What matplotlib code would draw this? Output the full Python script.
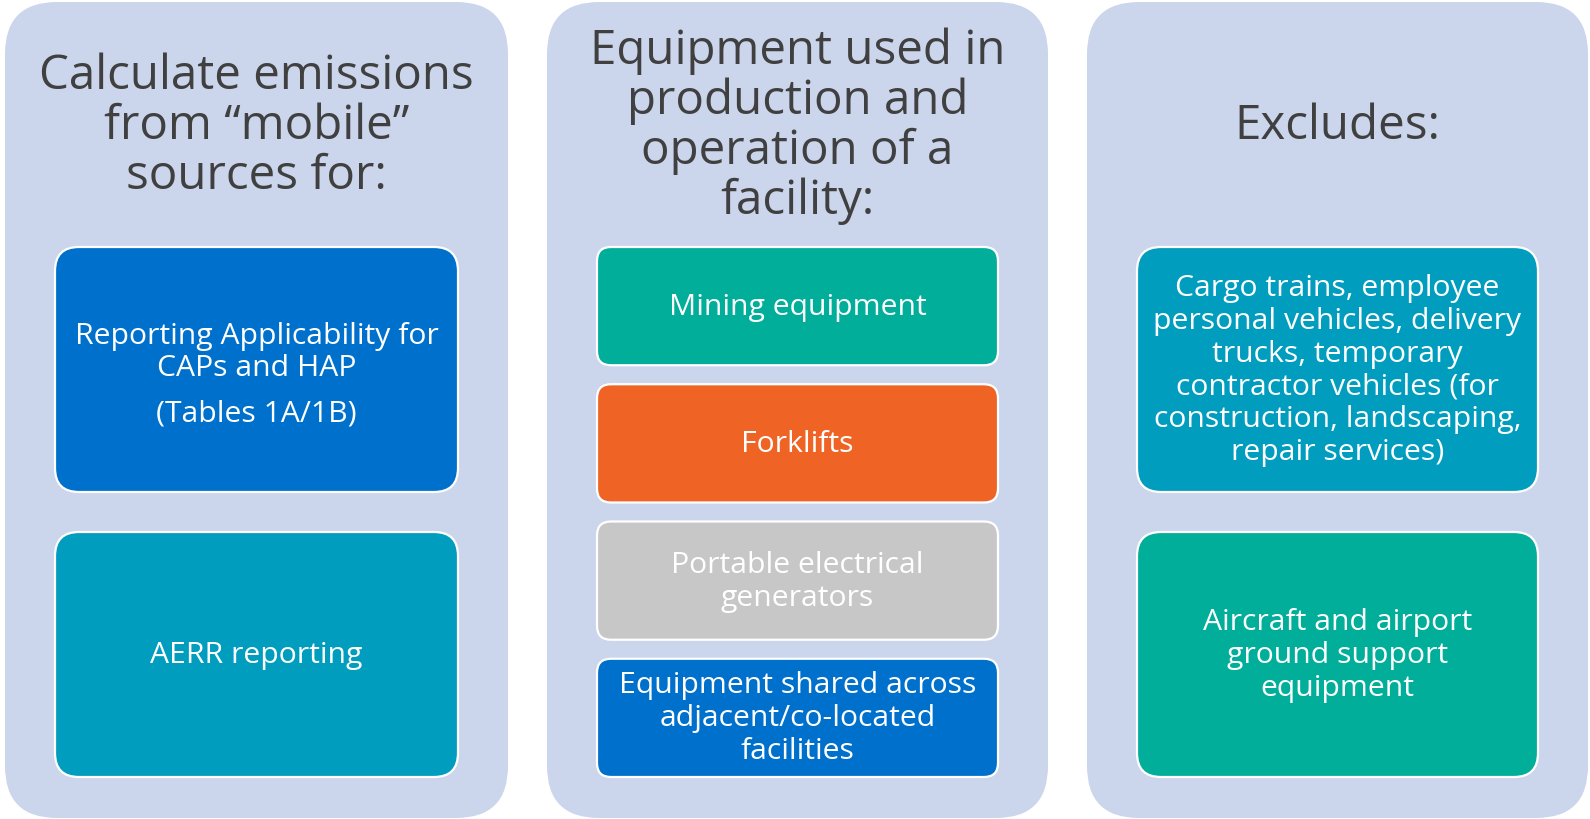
import matplotlib
matplotlib.use("Agg")
import matplotlib.pyplot as plt
from matplotlib.patches import FancyBboxPatch

# ---- content ----
panel_titles = [
    "Calculate emissions\nfrom \u201cmobile\u201d\nsources for:",
    "Equipment used in\nproduction and\noperation of a\nfacility:",
    "Excludes:",
]
panel1_items = ["Reporting Applicability for\nCAPs and HAP", "AERR reporting"]
panel1_notes = ["(Tables 1A/1B)", ""]
panel1_colors = ["#0070CD", "#009DBF"]
panel2_items = [
    "Mining equipment",
    "Forklifts",
    "Portable electrical\ngenerators",
    "Equipment shared across\nadjacent/co-located\nfacilities",
]
panel2_colors = ["#00AE9A", "#EF6424", "#C7C7C7", "#0070CD"]
panel3_items = [
    "Cargo trains, employee\npersonal vehicles, delivery\ntrucks, temporary\ncontractor vehicles (for\nconstruction, landscaping,\nrepair services)",
    "Aircraft and airport\nground support\nequipment",
]
panel3_colors = ["#009DBF", "#00AE9A"]

# ---- style ----
FONT = "Open Sans"
PANEL_BG = "#CBD5EC"
TITLE_COLOR = "#404040"
W, H = 1590, 820
TITLE_FS = 34.2
BOX_FS = 21.7

fig = plt.figure(figsize=(W / 100, H / 100), dpi=100)
ax = fig.add_axes([0, 0, 1, 1])
ax.set_xlim(0, W)
ax.set_ylim(H, 0)
ax.axis("off")

panel_x = [(5, 508), (547, 1048), (1087, 1588)]
panel_top, panel_bot = 3, 819


def rbox(x0, y0, x1, y1, color, r, ec="none", lw=0):
    p = FancyBboxPatch((x0, y0), x1 - x0, y1 - y0,
                       boxstyle=f"round,pad=0,rounding_size={r}",
                       fc=color, ec=ec, lw=lw, mutation_aspect=1)
    ax.add_patch(p)


for i, (x0, x1) in enumerate(panel_x):
    rbox(x0, panel_top, x1, panel_bot, PANEL_BG, 52)
    ax.text((x0 + x1) / 2, 126, panel_titles[i], ha="center", va="center",
            fontsize=TITLE_FS, family=FONT, color=TITLE_COLOR, linespacing=1.07)

inset = 50


def column_boxes(pi, items, colors, notes=None):
    x0, x1 = panel_x[pi]
    bx0, bx1 = x0 + inset, x1 - inset
    n = len(items)
    top, bot = 248, 778
    gap = 40 if n == 2 else 19
    h = (bot - top - gap * (n - 1)) / n
    r = 24 if n == 2 else 14
    for k, (txt, col) in enumerate(zip(items, colors)):
        y0 = top + k * (h + gap)
        rbox(bx0, y0, bx1, y0 + h, col, r, ec="white", lw=1.6)
        cx, cy = (bx0 + bx1) / 2, y0 + h / 2
        if notes and notes[k]:
            ax.text(cx, cy + 13, txt, ha="center", va="bottom", fontsize=BOX_FS,
                    family=FONT, color="white", linespacing=1.18)
            ax.text(cx, cy + 29, notes[k], ha="center", va="top", fontsize=BOX_FS,
                    family=FONT, color="white")
        else:
            ax.text(cx, cy, txt, ha="center", va="center", fontsize=BOX_FS,
                    family=FONT, color="white", linespacing=1.18)


column_boxes(0, panel1_items, panel1_colors, panel1_notes)
column_boxes(1, panel2_items, panel2_colors)
column_boxes(2, panel3_items, panel3_colors)

fig.savefig("out.png", dpi=100, facecolor="white")
